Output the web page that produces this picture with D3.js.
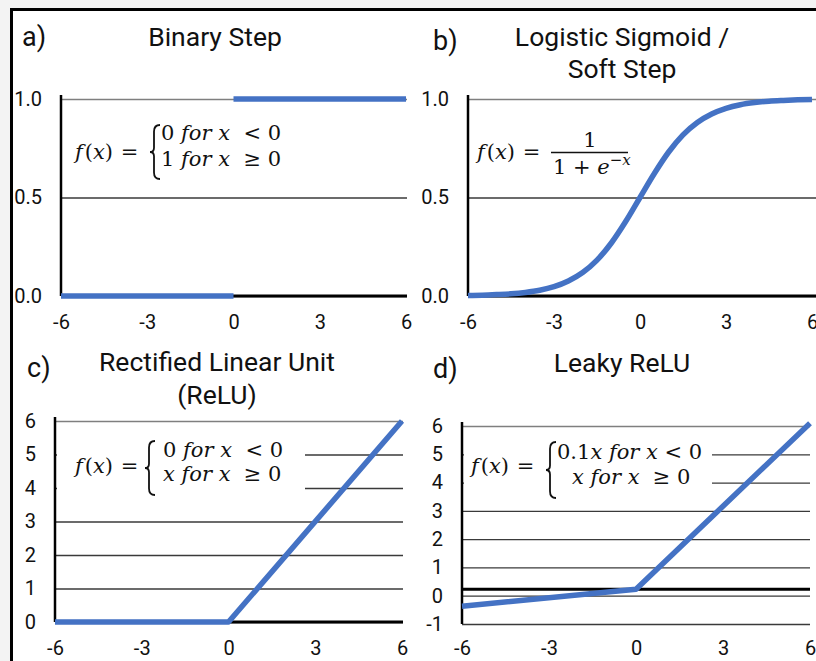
<!DOCTYPE html>
<html lang="en">
<head>
<meta charset="utf-8">
<title>Activation functions</title>
<script src="https://cdn.jsdelivr.net/npm/d3@7"></script>
<style>
  html, body { margin: 0; padding: 0; background: #f3f3f3; }
  svg { display: block; }
</style>
</head>
<body>
<div id="chart"></div>
<script>
// values
const xTicks = [-6, -3, 0, 3, 6];
const unitTicks = [0, 0.5, 1];
const reluTicks = [0, 1, 2, 3, 4, 5, 6];
const leakyTicks = [-1, 0, 1, 2, 3, 4, 5, 6];

const stepLowX = [-6, 0];
const stepLowY = [0, 0];
const stepHighX = [0, 6];
const stepHighY = [1, 1];

const sigmoidX = [-6, -5.5, -5, -4.5, -4, -3.5, -3, -2.5, -2, -1.5, -1, -0.5, 0,
                  0.5, 1, 1.5, 2, 2.5, 3, 3.5, 4, 4.5, 5, 5.5, 6];
const sigmoidY = [0.003, 0.004, 0.007, 0.011, 0.018, 0.029, 0.047, 0.076, 0.119, 0.182, 0.269, 0.378, 0.5,
                  0.622, 0.731, 0.818, 0.881, 0.924, 0.953, 0.971, 0.982, 0.989, 0.993, 0.996, 0.998];

const reluX = [-6, 0, 6];
const reluY = [0, 0, 6];

const leakyX = [-6, 0, 6];
const leakyY = [-0.37, 0.23, 6.1];
const leakyBaseY = 0.23;

const tags = ["a)", "b)", "c)", "d)"];
const titles = [["Binary Step"], ["Logistic Sigmoid /", "Soft Step"],
                ["Rectified Linear Unit", "(ReLU)"], ["Leaky ReLU"]];

const W = 816, H = 661;
const blue = "#4472c4";
const sans = "Roboto, 'Noto Sans', sans-serif";
const serif = "'DejaVu Serif', 'Liberation Serif', serif";
const plain = d => String(d);          // hyphen minus like the source

const svg = d3.select("#chart").append("svg")
  .attr("width", W).attr("height", H);

// outer frame
svg.append("rect").attr("x", 12).attr("y", 10).attr("width", W).attr("height", H).attr("fill", "#fff");
svg.append("line").attr("x1", 11.5).attr("x2", 11.5).attr("y1", 8).attr("y2", H)
  .attr("stroke", "#000").attr("stroke-width", 3);
svg.append("line").attr("x1", 10).attr("x2", W).attr("y1", 9.5).attr("y2", 9.5)
  .attr("stroke", "#000").attr("stroke-width", 3);

const panels = [
  { x0: 61, x1: 406, gridEnd: 407, yDomain: [0, 1], yRange: [296, 99], ticks: unitTicks,
    fmt: d3.format(".1f"), baseY: 0, labelY: 322, tagX: 22, tagY: 46, titleX: 215, titleY: [46],
    series: [[stepLowX, stepLowY], [stepHighX, stepHighY]] },
  { x0: 468, x1: 812, gridEnd: 816, yDomain: [0, 1], yRange: [296, 99], ticks: unitTicks,
    fmt: d3.format(".1f"), baseY: 0, labelY: 322, tagX: 433, tagY: 50, titleX: 622, titleY: [46, 78],
    series: [[sigmoidX, sigmoidY]], curve: d3.curveMonotoneX },
  { x0: 55, x1: 402, gridEnd: 403, yDomain: [0, 6], yRange: [622, 421], ticks: reluTicks,
    fmt: plain, baseY: 0, labelY: 648, tagX: 27, tagY: 377, titleX: 217, titleY: [371, 404],
    series: [[reluX, reluY]], mask: [57, 432, 248, 62] },
  { x0: 462, x1: 810, gridEnd: 810, yDomain: [-1, 6], yRange: [624, 426], ticks: leakyTicks,
    fmt: plain, baseY: leakyBaseY, labelY: 648, tagX: 433, tagY: 378, titleX: 622, titleY: [372],
    series: [[leakyX, leakyY]], mask: [464, 438, 248, 58] }
];

panels.forEach((p, i) => {
  const g = svg.append("g");
  const x = d3.scaleLinear().domain([-6, 6]).range([p.x0, p.x1]);
  const y = d3.scaleLinear().domain(p.yDomain).range(p.yRange);
  const top = p.yDomain[1];

  // tag and title
  g.append("text").attr("x", p.tagX).attr("y", p.tagY).text(tags[i])
    .attr("font-family", sans).attr("font-size", 27).attr("fill", "#111");
  titles[i].forEach((t, k) => {
    g.append("text").attr("x", p.titleX).attr("y", p.titleY[k]).text(t)
      .attr("text-anchor", "middle").attr("font-family", sans).attr("font-size", 26.5).attr("fill", "#111");
  });

  // y axis with gridlines
  const yAxis = d3.axisLeft(y).tickValues(p.ticks).tickFormat(p.fmt)
    .tickSizeInner(-(p.gridEnd - p.x0)).tickSizeOuter(0).tickPadding(19);
  const ya = g.append("g").attr("transform", `translate(${p.x0},0)`).call(yAxis);
  ya.select(".domain").remove();
  ya.selectAll(".tick line")
    .attr("stroke", d => d === top ? "#7f7f7f" : "#3a3a3a")
    .attr("stroke-width", 1.3);
  ya.selectAll(".tick text").attr("font-family", sans).attr("font-size", 20).attr("fill", "#111");

  // x labels
  const xAxis = d3.axisBottom(x).tickValues(xTicks).tickFormat(plain).tickSize(0).tickPadding(0);
  const xa = g.append("g").attr("transform", `translate(0,${p.labelY - 7})`).call(xAxis);
  xa.select(".domain").remove();
  xa.selectAll(".tick text").attr("font-family", sans).attr("font-size", 20).attr("fill", "#111");

  // white box behind the formula hides some gridlines
  if (p.mask) {
    g.append("rect").attr("x", p.mask[0]).attr("y", p.mask[1])
      .attr("width", p.mask[2]).attr("height", p.mask[3]).attr("fill", "#fff");
  }

  // axis lines
  g.append("line").attr("x1", x(-6)).attr("x2", p.gridEnd)
    .attr("y1", y(p.baseY)).attr("y2", y(p.baseY))
    .attr("stroke", "#000").attr("stroke-width", 3);
  g.append("line").attr("x1", p.x0).attr("x2", p.x0)
    .attr("y1", y(top) - 4).attr("y2", y(p.yDomain[0]))
    .attr("stroke", "#000").attr("stroke-width", 2.5);

  // series
  const line = d3.line().x(d => x(d[0])).y(d => y(d[1])).curve(p.curve || d3.curveLinear);
  p.series.forEach(([xs, ys]) => {
    g.append("path").datum(d3.zip(xs, ys)).attr("d", line)
      .attr("fill", "none").attr("stroke", blue).attr("stroke-width", 5.5)
      .attr("stroke-linejoin", "round");
  });

  p.g = g;
});

// formula helpers
function mathLine(g, x, y, parts, anchor) {
  const t = g.append("text").attr("x", x).attr("y", y)
    .attr("font-family", serif).attr("font-size", 21).attr("fill", "#111")
    .attr("text-anchor", anchor || "start");
  parts.forEach(([s, it, dx]) => t.append("tspan").attr("dx", dx || null)
    .attr("font-style", it ? "italic" : "normal").text(s.replace(/ /g, "\u00a0")));
  return t;
}
function brace(g, x, cy, h, w) {
  const p = d3.path();
  p.moveTo(x + w, cy - h / 2);
  p.quadraticCurveTo(x + w * 0.4, cy - h / 2, x + w * 0.4, cy - h / 2 + h * 0.12);
  p.lineTo(x + w * 0.4, cy - h * 0.08);
  p.quadraticCurveTo(x + w * 0.4, cy, x, cy);
  p.quadraticCurveTo(x + w * 0.4, cy, x + w * 0.4, cy + h * 0.08);
  p.lineTo(x + w * 0.4, cy + h / 2 - h * 0.12);
  p.quadraticCurveTo(x + w * 0.4, cy + h / 2, x + w, cy + h / 2);
  g.append("path").attr("d", p.toString()).attr("fill", "none")
    .attr("stroke", "#111").attr("stroke-width", 1.8);
}
const lhs = [["f", 1], ["(", 0, 2], ["x", 1], [")", 0], [" =", 0, 1]];

// a) binary step
let fg = panels[0].g;
mathLine(fg, 75, 159, lhs);
brace(fg, 150, 152, 54, 10);
mathLine(fg, 161, 140, [["0 ", 0], ["for x", 1], ["  < 0", 0]]);
mathLine(fg, 161, 166, [["1 ", 0], ["for x", 1], ["  \u2265 0", 0]]);

// b) sigmoid
fg = panels[1].g;
mathLine(fg, 477, 159, lhs);
mathLine(fg, 590, 147, [["1", 0]], "middle");
fg.append("line").attr("x1", 551).attr("x2", 628).attr("y1", 152.5).attr("y2", 152.5)
  .attr("stroke", "#111").attr("stroke-width", 1.3);
const den = mathLine(fg, 553, 174, [["1 + ", 0], ["e", 1]]);
den.append("tspan").attr("dy", -9).attr("font-size", 15).text("\u2212");
den.append("tspan").attr("font-size", 15).attr("font-style", "italic").text("x");

// c) relu
fg = panels[2].g;
mathLine(fg, 75, 473, lhs);
brace(fg, 145, 468, 54, 10);
mathLine(fg, 163, 457, [["0 ", 0], ["for x", 1], ["  < 0", 0]]);
mathLine(fg, 163, 481, [["x for x", 1], ["  \u2265 0", 0]]);

// d) leaky relu
fg = panels[3].g;
mathLine(fg, 471, 473, lhs);
brace(fg, 546, 470, 56, 10);
mathLine(fg, 557, 459, [["0.1", 0], ["x for x", 1], [" < 0", 0]]);
mathLine(fg, 572, 484, [["x for x", 1], ["  \u2265 0", 0]]);
</script>
</body>
</html>
